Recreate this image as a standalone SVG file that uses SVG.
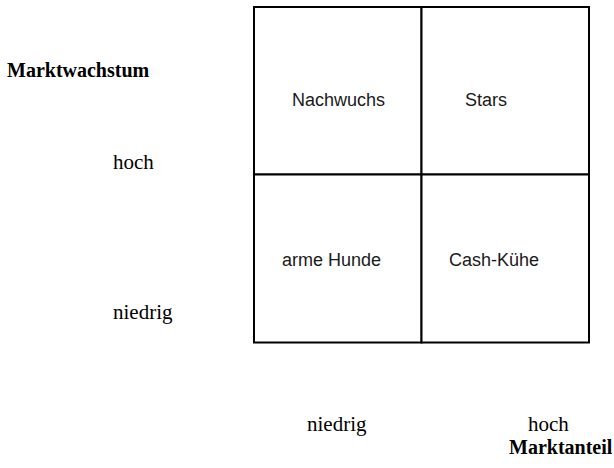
<svg xmlns="http://www.w3.org/2000/svg" width="614" height="468" viewBox="0 0 614 468">
<style>
.cell{fill:#fff;stroke:#000;stroke-width:2}
.s{font-family:"Liberation Sans",Arial,sans-serif;font-size:18px;fill:#1a1a1a}
.r{font-family:"Liberation Serif","Times New Roman",serif;font-size:21px;fill:#000}
.b{font-family:"Liberation Serif","Times New Roman",serif;font-size:20px;font-weight:bold;fill:#000}
</style>
<rect width="614" height="468" fill="#fff"/>
<g id="nachwuchs"><rect class="cell" x="254" y="7" width="167.5" height="167.5"/><text class="s" x="292" y="106">Nachwuchs</text></g>
<g id="stars"><rect class="cell" x="421.5" y="7" width="167.5" height="167.5"/><text class="s" x="465" y="106">Stars</text></g>
<g id="arme-hunde"><rect class="cell" x="254" y="174.5" width="167.5" height="168"/><text class="s" x="282" y="266">arme Hunde</text></g>
<g id="cash-kuehe"><rect class="cell" x="421.5" y="174.5" width="167.5" height="168"/><text class="s" x="449" y="266">Cash-Kühe</text></g>
<g id="labels">
<text class="b" x="7" y="77">Marktwachstum</text>
<text class="r" x="113" y="169">hoch</text>
<text class="r" x="113" y="319">niedrig</text>
<text class="r" x="307" y="431">niedrig</text>
<text class="r" x="528" y="431">hoch</text>
<text class="b" x="509" y="454">Marktanteil</text>
</g>
<g id="connectors"></g>
</svg>
